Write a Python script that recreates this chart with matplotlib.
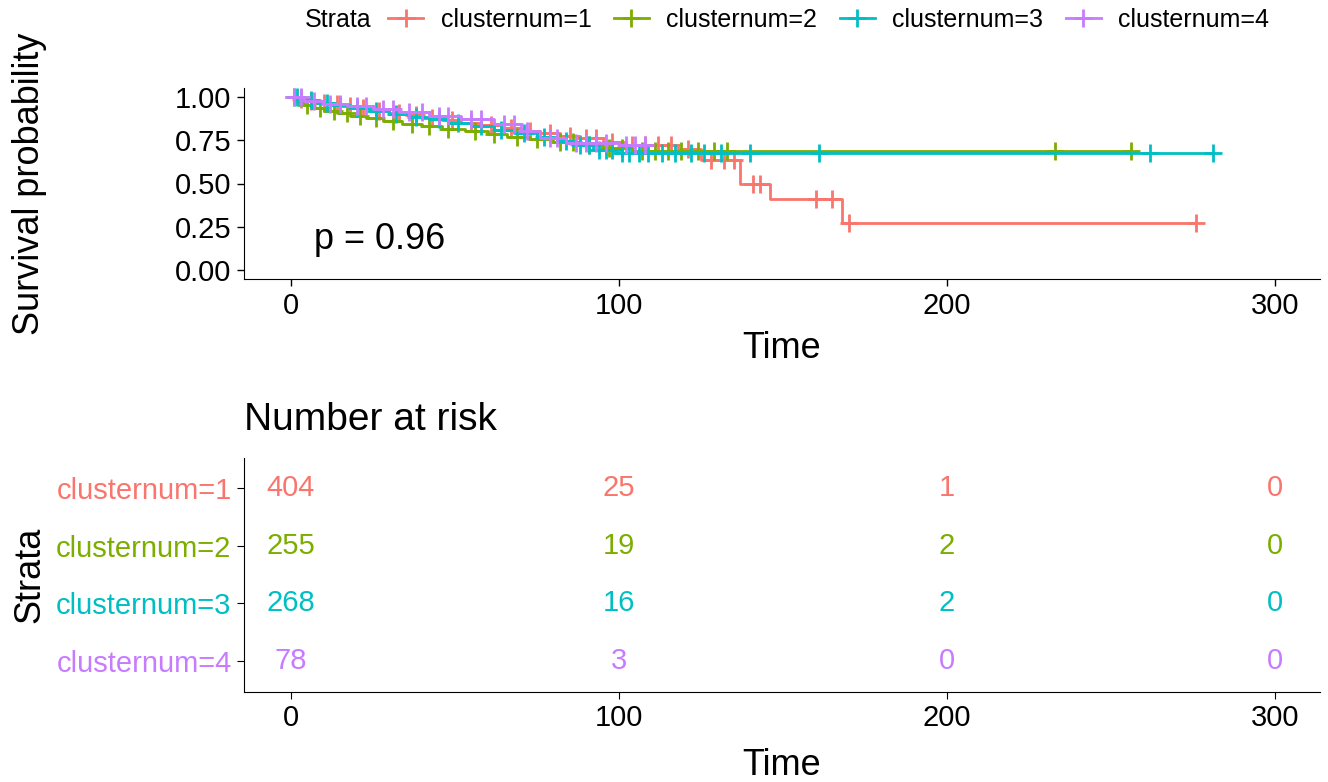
import numpy as np
import matplotlib.pyplot as plt
from matplotlib.lines import Line2D

plt.rcParams['font.family'] = ['Liberation Sans', 'DejaVu Sans']

# strata and colours
strata = ["clusternum=1", "clusternum=2", "clusternum=3", "clusternum=4"]
colors = ["#F8766D", "#7CAE00", "#00BFC4", "#C77CFF"]

# step times / survival after each event
t1 = [0, 2, 5, 8, 12, 16, 20, 25, 30, 35, 40, 46, 52, 58, 64, 70, 76, 82, 88, 95, 102, 118, 125, 137, 146, 168]
s1 = [1.0, 0.985, 0.975, 0.965, 0.955, 0.945, 0.935, 0.92, 0.905, 0.895, 0.88, 0.865, 0.85, 0.835, 0.82, 0.805, 0.79, 0.775, 0.76, 0.74, 0.72, 0.70, 0.635, 0.50, 0.41, 0.27]
c1 = [3, 6, 10, 14, 18, 22, 27, 33, 38, 43, 49, 55, 61, 67, 73, 79, 85, 90, 93, 98, 104, 108, 112, 116, 121, 128, 132, 135, 141, 143, 160, 165, 170, 276]

t2 = [0, 2, 4, 7, 10, 14, 18, 23, 28, 34, 40, 46, 53, 60, 66, 73, 80, 88, 95, 104]
s2 = [1.0, 0.97, 0.95, 0.935, 0.92, 0.905, 0.89, 0.875, 0.86, 0.845, 0.83, 0.815, 0.80, 0.785, 0.77, 0.755, 0.74, 0.72, 0.705, 0.69]
c2 = [1, 5, 9, 13, 17, 21, 26, 31, 37, 42, 48, 56, 62, 69, 75, 82, 86, 91, 97, 101, 107, 111, 115, 119, 124, 129, 133, 233, 256]

t3 = [0, 3, 8, 13, 18, 24, 30, 36, 42, 48, 55, 62, 68, 75, 81, 86, 92, 99]
s3 = [1.0, 0.98, 0.965, 0.95, 0.935, 0.92, 0.90, 0.885, 0.87, 0.85, 0.83, 0.81, 0.79, 0.77, 0.745, 0.72, 0.695, 0.675]
c3 = [2, 6, 11, 15, 20, 26, 32, 38, 45, 51, 58, 64, 71, 77, 84, 88, 91, 94, 96, 98, 101, 103, 106, 109, 113, 117, 122, 126, 131, 140, 161, 262, 281]

t4 = [0, 4, 10, 17, 25, 33, 42, 52, 62, 70, 76, 84, 100]
s4 = [1.0, 0.975, 0.96, 0.945, 0.93, 0.91, 0.89, 0.87, 0.845, 0.80, 0.76, 0.735, 0.72]
c4 = [1, 3, 7, 12, 15, 20, 23, 28, 31, 36, 40, 45, 48, 55, 58, 65, 68, 72, 79, 81, 87, 90, 93, 96, 102, 105, 108]

times = [t1, t2, t3, t4]
survs = [s1, s2, s3, s4]
censors = [c1, c2, c3, c4]

# number at risk table
risk_times = [0, 100, 200, 300]
at_risk = [[404, 25, 1, 0],
           [255, 19, 2, 0],
           [268, 16, 2, 0],
           [78, 3, 0, 0]]

fig = plt.figure(figsize=(13.28, 7.82), dpi=100)
ax = fig.add_axes([244/1328, 1-279/782, 1076/1328, 191/782])
ax2 = fig.add_axes([244/1328, 1-692/782, 1076/1328, 234/782])

for t, s, c, col in zip(times, survs, censors, colors):
    t = np.array(t); s = np.array(s)
    end = max(max(c), t[-1])
    ax.step(np.append(t, end), np.append(s, s[-1]), where='post', color=col, lw=2)
    idx = np.searchsorted(t, c, side='right') - 1
    ax.plot(c, s[idx], ls='none', marker='+', ms=13, mew=2, color=col)

ax.set_xlim(-14.3, 313.7)
ax.set_ylim(-0.05, 1.05)
ax.set_xticks([0, 100, 200, 300])
ax.set_yticks([0, 0.25, 0.5, 0.75, 1.0])
ax.set_yticklabels(["0.00", "0.25", "0.50", "0.75", "1.00"])
ax.tick_params(labelsize=21, length=5, width=1, pad=4, colors='black')
ax.set_xlabel("Time", fontsize=26, va='center')
ax.xaxis.set_label_coords(0.5, -0.366)
ax.set_ylabel("Survival probability", fontsize=26, va='center')
ax.yaxis.set_label_coords(-0.199, 0.5)
ax.text(7, 0.18, "p = 0.96", fontsize=26, va='center')
for sp in ['top', 'right']:
    ax.spines[sp].set_visible(False)

# risk table
for i in range(4):
    for j, tt in enumerate(risk_times):
        ax2.text(tt, i+1, str(at_risk[i][j]), color=colors[i], fontsize=21, ha='center', va='center')
ax2.set_xlim(-14.3, 313.7)
ax2.set_ylim(4.54, 0.48)
ax2.set_xticks([0, 100, 200, 300])
ax2.set_yticks([1, 2, 3, 4])
ax2.set_yticklabels(strata, fontsize=21)
for lab, col in zip(ax2.get_yticklabels(), colors):
    lab.set_color(col)
ax2.tick_params(axis='x', labelsize=21, length=5, pad=4)
ax2.tick_params(axis='y', length=5, pad=4)
ax2.set_xlabel("Time", fontsize=26, va='center')
ax2.xaxis.set_label_coords(0.5, -0.312)
ax2.set_ylabel("Strata", fontsize=26, va='center')
ax2.yaxis.set_label_coords(-0.199, 0.5)
ax2.text(0, (692-430)/234, "Number at risk", fontsize=28, va='baseline', ha='left', transform=ax2.transAxes)
for sp in ['top', 'right']:
    ax2.spines[sp].set_visible(False)

# legend on top
fig.text(305/1328, 1-20/782, "Strata", fontsize=18, va='center')
handles = [Line2D([0], [0], color=c, lw=2, marker='+', ms=13, mew=2) for c in colors]
fig.legend(handles, strata, loc='center left', bbox_to_anchor=(388/1328, 1-20/782), ncol=4,
           frameon=False, fontsize=18, handlelength=1.4, columnspacing=0.9, handletextpad=0.7,
           borderaxespad=0, borderpad=0)

fig.savefig("out.png", dpi=100)
